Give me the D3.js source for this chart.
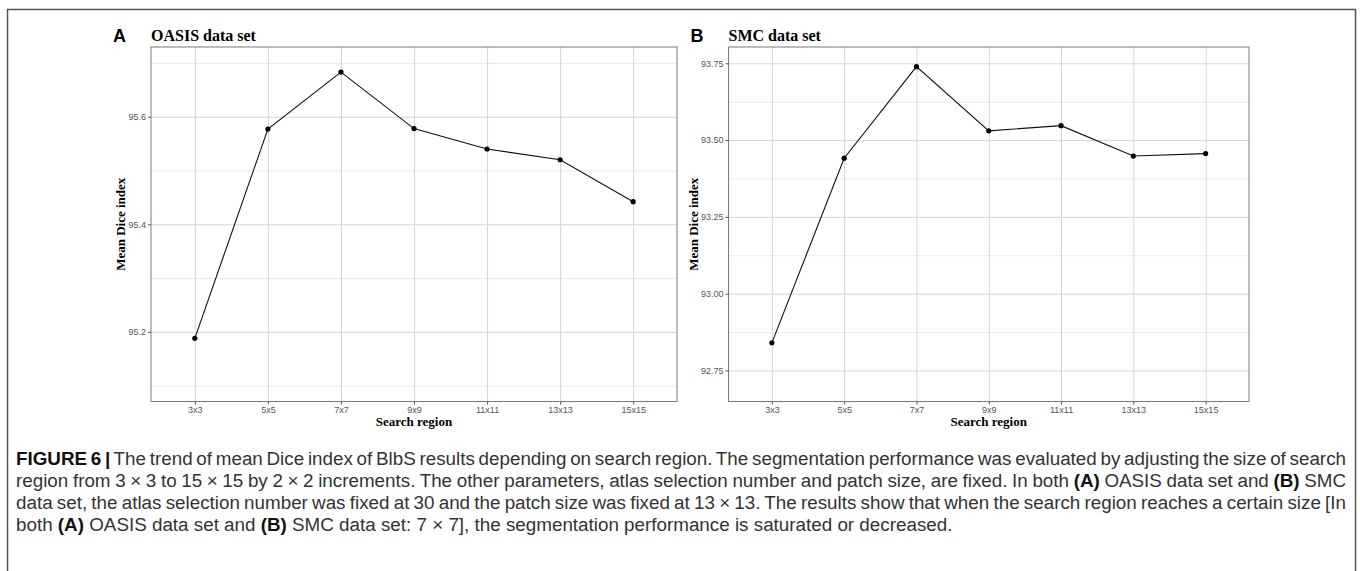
<!DOCTYPE html>
<html>
<head>
<meta charset="utf-8">
<script src="https://cdn.jsdelivr.net/npm/d3@7"></script>
<style>
  body { margin: 0; background: #fff; }
  .tick text { fill: #555; font-family: 'Liberation Sans', Arial, sans-serif; font-size: 9px; }
  .axis line { stroke: #555; }
  .axis path { display: none; }
  .grid line { stroke: #d4d4d4; stroke-width: 1; }
  .grid path { display: none; }
  .grid.minor line { stroke: #e6e6e6; stroke-width: 0.8; }
  .serif { font-family: 'Liberation Serif', 'Times New Roman', serif; font-weight: bold; fill: #000; }
  .caption { font-family: 'Liberation Sans', Arial, sans-serif; fill: #333; }
</style>
</head>
<body>
<svg id="figure"></svg>
<script>
const size = {w: 1360, h: 571};

// x categories shared by both panels
const regions = ['3x3', '5x5', '7x7', '9x9', '11x11', '13x13', '15x15'];

// mean dice index
const oasisDice = [95.188, 95.577, 95.683, 95.578, 95.540, 95.520, 95.442];
const smcDice = [92.840, 93.441, 93.739, 93.530, 93.547, 93.448, 93.456];

// y axis limits and tick labels
const oasisLimits = [95.0705, 95.7297];
const oasisTicks = [95.2, 95.4, 95.6];
const smcLimits = [92.649, 93.803];
const smcTicks = [92.75, 93.00, 93.25, 93.50, 93.75];

// caption, one entry per printed line; |A| marks a bold panel reference
const captionLines = [
    '*FIGURE 6 |* The trend of mean Dice index of BlbS results depending on search region. The segmentation performance was evaluated by adjusting the size of search',
    'region from 3 \u00d7 3 to 15 \u00d7 15 by 2 \u00d7 2 increments. The other parameters, atlas selection number and patch size, are fixed. In both *(A)* OASIS data set and *(B)* SMC',
    'data set, the atlas selection number was fixed at 30 and the patch size was fixed at 13 \u00d7 13. The results show that when the search region reaches a certain size [In',
    'both *(A)* OASIS data set and *(B)* SMC data set: 7 \u00d7 7], the segmentation performance is saturated or decreased.'
];

const svg = d3.select('svg#figure')
    .attr('width', size.w)
    .attr('height', size.h);

// frame around the figure (open at the bottom)
svg.append('path')
    .attr('d', `M7.5,${size.h} V9.5 H1355.5 V${size.h}`)
    .attr('fill', 'none')
    .attr('stroke', '#555')
    .attr('stroke-width', 1.5);

drawPanel({
    letter: 'A', title: 'OASIS data set',
    x0: 151, x1: 677, y0: 47, y1: 401.5,
    labelX: 125,
    values: oasisDice, limits: oasisLimits, ticks: oasisTicks, fmt: d3.format('.1f')
});

drawPanel({
    letter: 'B', title: 'SMC data set',
    x0: 728.5, x1: 1249, y0: 47, y1: 401.5,
    labelX: 698,
    values: smcDice, limits: smcLimits, ticks: smcTicks, fmt: d3.format('.2f')
});

drawCaption();

function drawPanel(p) {
    const g = svg.append('g');
    const w = p.x1 - p.x0;
    const h = p.y1 - p.y0;

    const x = d3.scalePoint()
        .domain(regions)
        .range([p.x0, p.x1])
        .padding(0.6);
    const y = d3.scaleLinear()
        .domain(p.limits)
        .range([p.y1, p.y0]);

    // minor grid lines sit half way between the major ones
    const step = p.ticks[1] - p.ticks[0];
    const minor = [p.ticks[0] - step / 2].concat(p.ticks.map(t => t + step / 2))
        .filter(t => t > p.limits[0] && t < p.limits[1]);

    g.append('g')
        .attr('class', 'grid minor')
        .attr('transform', `translate(${p.x0},0)`)
        .call(d3.axisLeft(y).tickValues(minor).tickSize(-w).tickFormat(''));

    g.append('g')
        .attr('class', 'grid')
        .attr('transform', `translate(${p.x0},0)`)
        .call(d3.axisLeft(y).tickValues(p.ticks).tickSize(-w).tickFormat(''));

    g.append('g')
        .attr('class', 'grid')
        .attr('transform', `translate(0,${p.y1})`)
        .call(d3.axisBottom(x).tickSize(-h).tickFormat(''));

    // panel border
    g.append('rect')
        .attr('x', p.x0)
        .attr('y', p.y0)
        .attr('width', w)
        .attr('height', h)
        .attr('fill', 'none')
        .attr('stroke', '#7a7a7a')
        .attr('stroke-width', 1);

    // axes
    g.append('g')
        .attr('class', 'axis')
        .attr('transform', `translate(${p.x0},0)`)
        .call(d3.axisLeft(y).tickValues(p.ticks).tickFormat(p.fmt).tickSize(3).tickPadding(2));

    g.append('g')
        .attr('class', 'axis')
        .attr('transform', `translate(0,${p.y1})`)
        .call(d3.axisBottom(x).tickSize(3).tickPadding(2));

    // the line and its points
    const line = d3.line()
        .x((d, i) => x(regions[i]))
        .y(d => y(d));

    g.append('path')
        .datum(p.values)
        .attr('d', line)
        .attr('fill', 'none')
        .attr('stroke', '#111')
        .attr('stroke-width', 1.1);

    g.selectAll('circle')
        .data(p.values)
        .join('circle')
        .attr('cx', (d, i) => x(regions[i]))
        .attr('cy', d => y(d))
        .attr('r', 2.6)
        .attr('fill', '#000');

    // labels
    g.append('text')
        .attr('x', p.x0 - 38)
        .attr('y', 42)
        .attr('font-family', "'Liberation Sans', Arial, sans-serif")
        .attr('font-weight', 'bold')
        .attr('font-size', 18)
        .text(p.letter);

    g.append('text')
        .attr('class', 'serif')
        .attr('x', p.x0)
        .attr('y', 40.5)
        .attr('font-size', 16)
        .text(p.title);

    g.append('text')
        .attr('class', 'serif')
        .attr('x', (p.x0 + p.x1) / 2)
        .attr('y', 426)
        .attr('text-anchor', 'middle')
        .attr('font-size', 13)
        .text('Search region');

    g.append('text')
        .attr('class', 'serif')
        .attr('transform', `translate(${p.labelX},${(p.y0 + p.y1) / 2}) rotate(-90)`)
        .attr('text-anchor', 'middle')
        .attr('font-size', 13)
        .text('Mean Dice index');
}

function drawCaption() {
    const g = svg.append('g').attr('class', 'caption');
    const left = 16, right = 1346, lastEnd = 953;

    const texts = captionLines.map((str, i) => {
        const t = g.append('text')
            .attr('x', left)
            .attr('y', 465 + i * 22)
            .attr('font-size', 16);
        // *...* marks bold runs
        str.split('*').forEach((part, j) => {
            const s = t.append('tspan').text(part);
            if (j % 2 === 1) s.attr('font-weight', 'bold').attr('fill', '#111');
        });
        return t;
    });

    // size the font so the last (unjustified) line ends where it does in print
    const last = texts[texts.length - 1];
    const fs = 16 * (lastEnd - left) / last.node().getComputedTextLength();
    texts.forEach(t => t.attr('font-size', fs));

    // justify the other lines by spreading the word gaps
    texts.slice(0, -1).forEach((t, i) => {
        const gaps = captionLines[i].split(' ').length - 1;
        const extra = (right - left) - t.node().getComputedTextLength();
        t.attr('word-spacing', extra / gaps);
    });
}
</script>
</body>
</html>
